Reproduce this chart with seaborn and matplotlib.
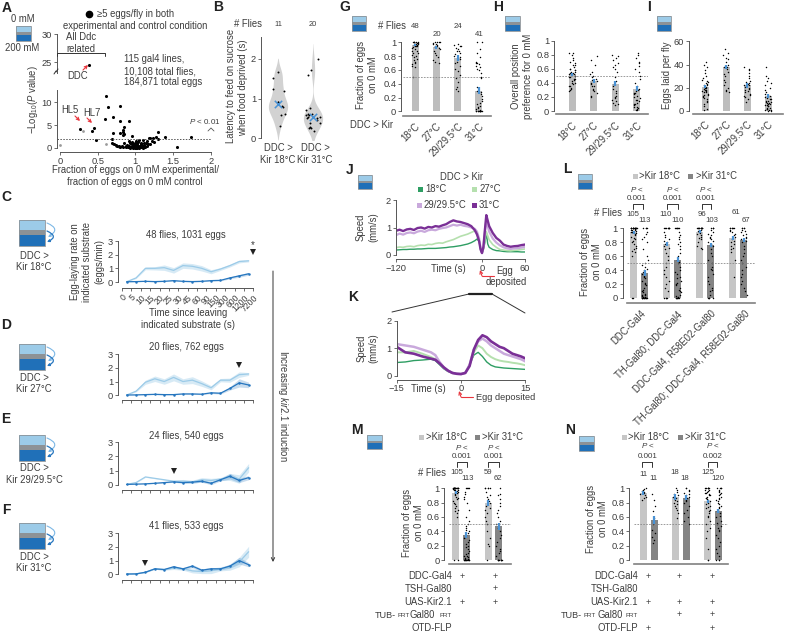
import numpy as np
import pandas as pd
import matplotlib
matplotlib.use('Agg')
import matplotlib.pyplot as plt
import seaborn as sns
from matplotlib.patches import Rectangle, FancyArrowPatch

W, H = 785, 633
TXT = '#3c3c3c'
LIGHT_BLUE = '#9ccbe8'
DARK_BLUE = '#2676bf'
ERR_BLUE = '#4a92d4'
BAR_GREY = '#bdbdbd'
BAR_LIGHT = '#c6c6c6'
BAR_DARK = '#848484'
C18, C27, C29, C31 = '#2e9e63', '#b5e0ae', '#c9a9dc', '#7a2f96'

# panel A
a_x = [.615, .637, .79, .6, .71, .8, .91, .85, .84, .83, .85, .84, .70, .79, .26, .42, .455, .48, .695, .695, .95, 1.3, 1.39, 1.74, 1.55,
       .72, .74, .76, .78, .8, .82, .84, .85, .87, .88, .89, .9, .91, .92, .93, .93, .94, .95, .95, .96, .96, .97, .97, .98, .98, .99, .99,
       1.0, 1.0, 1.0, 1.01, 1.01, 1.02, 1.02, 1.03, 1.03, 1.04, 1.05, 1.05, 1.06, 1.07, 1.08, 1.08, 1.09, 1.1, 1.1, 1.11, 1.12, 1.13, 1.14,
       1.15, 1.16, 1.17, 1.18, 1.19, 1.2, 1.22, 1.24, 1.25, 1.27, 1.3, .95, .98, 1.02, 1.06, 1.1, 1.0]
a_y = [11.3, 9.0, 9.3, 6.3, 6.7, 5.9, 6.0, 4.6, 4.0, 3.4, 3.0, 2.8, 3.2, 3.2, 4.2, 3.8, 4.3, 1.75, 1.9, 1.2, 2.6, 3.4, 2.5, 2.5, .2,
       .9, .6, .5, .4, .3, .5, .3, 1.0, .4, .2, .6, .3, 1.6, .5, .1, 1.2, .3, .8, 1.4, .2, .5, .1, .9, .3, .6, .1, 1.1,
       .2, .4, .7, .1, 1.5, .3, .9, .2, 1.3, .5, .1, 1.8, .4, .8, .2, 1.1, .5, 1.7, .1, .6, 1.2, .3, 1.0,
       1.5, .4, .9, 2.1, .8, 2.2, 1.6, 2.2, 1.4, 2.3, 2.0, .15, .25, .05, .35, .3, .45]
a_top_x = [.385]
a_top_y = [24.5]
a_grey_x = [.30, 0.0, .615, .74, .78, .70, .87]
a_grey_y = [3.8, .7, .9, .4, .3, .8, .2]

# panel B
b_18 = [1.66, 1.53, 1.25, 1.19, .91, .8, .62, .58, .31, .9, .78]
b_31 = [2.0, 1.72, 1.6, .62, .58, .62, .5, .5, .53, .38, .38, .28, .25, .26, .17, .58, .52, .7, .45, .75]
b_cats = ['18', '31']
b_means = [.85, .53]

# panels C-F
t_labels = ['0', '5', '10', '15', '20', '25', '30', '45', '60', '90', '150', '300', '600', '1200', '7200']
c_light = [.02, .3, 1.0, 1.0, 1.05, .85, 1.2, 1.15, 1.0, .75, .95, 1.2, 1.5, 1.55]
c_dark = [.02, .03, .05, .03, .05, .1, .05, .03, .05, .1, .12, .3, .45, .6]
c_light_err = [.02, .05, .1, .12, .2, .2, .2, .2, .2, .15, .1, .1, .1, .08]
c_dark_err = [.01, .01, .01, .02, .02, .03, .03, .03, .03, .03, .04, .07, .1, .1]
d_light = [.02, .3, .95, 1.2, 1.0, 1.3, 1.0, 1.1, .85, .55, 1.1, 1.1, 1.5, 1.55]
d_dark = [.02, .03, .05, .07, .05, .05, .1, .1, .08, .18, .15, .5, .9, .75]
d_light_err = [.02, .05, .15, .2, .2, .25, .2, .25, .2, .15, .12, .15, .2, .1]
d_dark_err = [.01, .01, .01, .02, .02, .02, .03, .03, .03, .05, .06, .12, .3, .2]
e_light = [.02, .15, .55, .45, .35, .25, .25, .2, .35, .3, .4, .55, .4, 1.2]
e_dark = [.02, .04, .06, .1, .15, .2, .15, .18, .25, .1, .35, .6, .3, .5]
e_light_err = [.01, .02, .03, .03, .03, .05, .12, .12, .15, .15, .1, .25, .3, .3]
e_dark_err = [.01, .01, .01, .02, .03, .03, .05, .05, .08, .1, .08, .2, .15, .15]
f_light = [.02, .03, .15, .4, .35, .45, .4, .25, .2, .25, .4, .5, .9, 1.65]
f_dark = [.02, .03, .15, .4, .35, .55, .4, .6, .3, .4, .4, .6, 1.0, .7]
f_light_err = [.01, .01, .02, .03, .05, .1, .1, .15, .15, .2, .15, .2, .35, .4]
f_dark_err = [.01, .01, .02, .03, .05, .08, .08, .12, .1, .1, .08, .15, .25, .15]

# panels G-I
temp_labels = ['18°C', '27°C', '29/29.5°C', '31°C']
g_bars = [.96, .93, .77, .30]
g_err = [.02, .02, .04, .05]
g_18 = [1, 1, 1, 1, 1, 1, .99, .99, .98, .98, .97, .97, .96, .96, .95, .95, .94, .93, .92, .9, .88, .87, .85, .84, .82, .8, .78, .76, .74, .72, .7, .68, .66, .64, .5]
g_27 = [1, 1, 1, 1, .99, .98, .97, .96, .95, .94, .93, .92, .9, .88, .85, .82, .78, .75, .72, .7]
g_29 = [.98, .96, .95, .94, .92, .9, .88, .87, .85, .83, .8, .78, .76, .72, .7, .66, .62, .58, .52, .48, .42, .35, .32, .3]
g_31 = [1, 1, .9, .85, .78, .72, .7, .68, .7, .66, .64, .62, .6, .55, .5, .48, .35, .3, .28, .25, .22, .18, .15, .12, .1, .08, .06, .05, .03, .02, .01, 0, 0, 0, 0, 0, 0, 0, 0, 0, 0]
h_bars = [.52, .43, .39, .32]
h_err = [.02, .03, .03, .03]
h_18 = [.82, .82, .8, .76, .72, .7, .68, .66, .65, .62, .6, .6, .58, .58, .56, .55, .54, .54, .52, .52, .5, .5, .48, .48, .46, .45, .44, .42, .4, .4, .38, .36, .35, .33, .32, .3, .28]
h_27 = [.78, .72, .65, .55, .52, .5, .48, .45, .44, .42, .4, .38, .36, .35, .32, .3, .28, .25, .22, .2]
h_29 = [.8, .78, .75, .72, .68, .65, .62, .6, .55, .48, .42, .38, .35, .32, .28, .25, .22, .2, .18, .16, .14, .12, .1, .09]
h_31 = [.82, .8, .75, .7, .68, .64, .6, .55, .5, .45, .4, .35, .32, .3, .28, .26, .25, .24, .22, .2, .18, .16, .15, .14, .12, .1, .1, .08, .06, .05, .04, .03, .02, .01]
i_bars = [21, 38, 22, 13]
i_err = [1.5, 2, 2, 2]
i_18 = [42, 40, 38, 35, 33, 30, 28, 27, 26, 25, 24, 23, 22, 22, 21, 20, 20, 19, 18, 18, 17, 17, 16, 16, 15, 14, 14, 13, 12, 11, 10, 9, 8, 6, 4, 2, 1]
i_27 = [53, 50, 48, 46, 45, 42, 40, 38, 38, 36, 34, 32, 30, 27, 25, 22, 20, 18, 17, 16]
i_29 = [38, 36, 35, 33, 30, 28, 26, 25, 24, 23, 22, 22, 21, 20, 19, 18, 17, 16, 15, 14, 13, 12, 10, 8]
i_31 = [38, 30, 28, 26, 24, 22, 20, 18, 16, 15, 14, 13, 12, 11, 10, 10, 9, 9, 8, 8, 7, 7, 6, 6, 5, 5, 4, 4, 3, 3, 2, 2, 1, 1, 1, 0, 0]

# panels J, K
j_t = [-120, -115, -110, -105, -100, -95, -90, -85, -80, -75, -70, -65, -60, -55, -50, -45, -40, -35, -30, -25, -20,
       -15, -10, -7, -4, -2, 0, 2, 4, 6, 8, 10, 15, 20, 25, 30, 35, 40, 45, 50, 55, 60]
j_31 = [.88, .92, .87, .93, .95, .91, .98, 1.0, .96, 1.02, 1.0, 1.05, 1.03, 1.08, 1.12, 1.2, 1.26, 1.22, 1.2, 1.16, 1.12,
        1.05, .9, .75, .5, .2, .07, .3, .9, 1.45, 1.25, 1.05, .8, .62, .52, .38, .33, .3, .32, .33, .36, .38]
j_29 = [.72, .78, .74, .8, .82, .79, .85, .88, .84, .9, .92, .9, .95, .98, 1.0, 1.05, 1.1, 1.07, 1.1, 1.06, 1.04,
        1.0, .95, .85, .6, .25, .07, .3, .8, 1.25, 1.05, .85, .6, .45, .35, .28, .24, .22, .24, .25, .27, .3]
j_27 = [.27, .29, .28, .31, .32, .3, .34, .36, .35, .39, .38, .42, .44, .43, .48, .52, .56, .62, .68, .72, .76,
        .82, .88, .8, .55, .22, .07, .25, .55, .85, .7, .55, .38, .28, .2, .18, .16, .15, .17, .18, .2, .22]
j_18 = [.18, .19, .2, .2, .21, .21, .22, .22, .23, .24, .24, .24, .25, .26, .27, .29, .3, .32, .34, .37, .4,
        .45, .52, .58, .5, .22, .07, .2, .45, .8, .4, .28, .2, .16, .15, .13, .12, .12, .12, .12, .11, .11]
k_t = [-15, -13, -11, -9, -7, -6, -5, -4, -3, -2, -1, 0, 1, 2, 3, 4, 5, 6, 7, 8, 9, 10, 11, 12, 13, 14, 15]
k_31 = [1.05, .85, .8, .7, .62, .58, .45, .3, .18, .1, .07, .06, .1, .35, .95, 1.3, 1.47, 1.4, 1.25, 1.15, 1.05, 1.0, .9, .8, .75, .7, .63]
k_29 = [1.15, 1.1, 1.05, .95, .85, .75, .5, .3, .18, .1, .07, .06, .1, .4, .95, 1.25, 1.35, 1.25, 1.1, 1.0, .9, .8, .75, .7, .65, .6, .52]
k_27 = [.85, .85, .9, .8, .68, .6, .45, .3, .18, .1, .07, .06, .1, .4, .85, 1.1, 1.0, .8, .68, .6, .55, .52, .5, .47, .45, .42, .38]
k_18 = [.48, .5, .55, .57, .6, .55, .4, .25, .15, .1, .07, .06, .1, .4, .75, .85, .7, .5, .38, .32, .3, .28, .27, .26, .25, .24, .23]

# panels L-N
l_bars = [.94, .36, .77, .55, .95, .76, .86, .83]
l_err = [.02, .04, .03, .04, .02, .03, .03, .03]
ddc_18 = [1, 1, 1, 1, 1, 1, 1, 1, 1, 1, 1, 1, 1, 1, 1, 1, 1, 1, .99, .98, .97, .97, .96, .95, .95, .94, .93, .92, .9, .88, .86, .85, .82, .8, .78, .75, .72, .7, .68, .66, .6, 0, 0]
ddc_31 = [1, 1, 1, 1, .95, .92, .88, .85, .8, .7, .6, .55, .5, .48, .45, .42, .4, .38, .35, .32, .3, .28, .25, .22, .2, .18, .15, .12, .1, .08, .06, .05, .04, .03, .02, .01, 0, 0, 0, 0, 0, 0, 0, 0, 0, 0]
th_18 = [1, 1, 1, 1, 1, 1, 1, 1, .95, .9, .88, .85, .82, .8, .78, .75, .72, .7, .65, .6, .55, .5, .45, .4, .35, .3, .25, .2, .15, .1, 0, 0, 0, 0]
th_31 = [1, 1, 1, 1, 1, 1, .95, .9, .88, .85, .8, .78, .75, .7, .65, .6, .55, .52, .5, .45, .4, .38, .35, .3, .28, .25, .22, .2, .18, .15, .12, .1, .08, .05, .03, .02, 0, 0, 0, 0, 0, 0]
r58_18 = [1, 1, 1, 1, 1, 1, 1, 1, 1, 1, 1, 1, .98, .96, .95, .94, .93, .92, .9, .88, .86, .84, .8, .75, .72, .7]
r58_31 = [1, 1, 1, 1, .98, .95, .92, .9, .88, .86, .85, .82, .8, .78, .75, .7, .65, .6, .55, .5, .45, .42, .4, .35, .3, .25, .2, .15, .12, .1, .05, 0, 0, 0, 0]
both_18 = [1, 1, 1, 1, 1, 1, .98, .96, .94, .92, .9, .88, .85, .82, .8, .78, .75, .72, .7, .66, .55, .3]
both_31 = [1, 1, 1, 1, .98, .96, .94, .92, .9, .88, .86, .84, .82, .8, .75, .7, .65, .6, .55, .5, .45, .4, .35, .3, .25, .2, .15, .1, .05]
l_groups = ['DDC-Gal4', 'TH-Gal80; DDC-Gal4', 'DDC-Gal4, R58E02-Gal80', 'TH-Gal80; DDC-Gal4, R58E02-Gal80']
m_bars = [.94, .35, .8, .47]
m_err = [.02, .04, .04, .05]
tsh_18 = [1, 1, 1, 1, 1, .95, .9, .88, .85, .82, .8, .75, .72, .7, .65, .6, .55, .5, .4, .3, .22, .2, 0]
tsh_31 = [1, .92, .9, .85, .8, .75, .7, .65, .6, .55, .5, .45, .4, .35, .3, .25, .2, .15, .12, .1, .05, 0, 0, 0, 0, 0, 0, 0, 0]
n_bars = [.93, .56, .88, .87, .82, .68]
n_err = [.03, .06, .04, .04, .02, .03]
n1_18 = [1, .99, .98, .96, .95, .94, .92, .9, .88, .86, .84]
n1_31 = [.92, .84, .75, .68, .58, .5, .42, .38, .32, .28, .24]
n2_18 = [1, .98, .95, .92, .9, .88, .86, .84, .82, .8, .78, .75, .72, .7, .66, .58]
n2_31 = [1, 1, .98, .96, .94, .92, .9, .88, .86, .84, .82, .8, .75, .7, .65, .6, .55, .5]
n3_18 = [1, 1, 1, 1, 1, 1, 1, .98, .97, .96, .95, .94, .93, .92, .91, .9, .88, .87, .86, .85, .84, .82, .8, .78, .76, .74, .72, .7, .68, .65, .62, .6, .55, .5, .45, .4, .3, .15, 0, 0]
n3_31 = [1, 1, 1, 1, .98, .96, .95, .94, .92, .9, .88, .86, .85, .84, .82, .8, .78, .76, .74, .72, .7, .68, .65, .62, .6, .55, .52, .5, .48, .45, .42, .4, .35, .3, .25, .2, .15, .1, .05, 0, 0, 0]

sns.set_theme(style='white')
plt.rcParams['font.family'] = ['Liberation Sans', 'DejaVu Sans']
plt.rcParams['mathtext.fontset'] = 'custom'
plt.rcParams['mathtext.rm'] = 'Liberation Sans'
plt.rcParams['mathtext.it'] = 'Liberation Sans:italic'
plt.rcParams['mathtext.default'] = 'regular'
plt.rcParams['axes.unicode_minus'] = True

fig = plt.figure(figsize=(W / 100, H / 100), dpi=100)

# overlay in pixel coordinates for labels and decoration
pix = fig.add_axes([0, 0, 1, 1], zorder=10)
pix.set_xlim(0, W)
pix.set_ylim(H, 0)
pix.axis('off')
pix.patch.set_alpha(0)


def t(x, y, s, size=6.85, ha='center', rot=0, **kw):
    kw.setdefault('color', TXT)
    pix.text(x, y, s, fontsize=size, ha=ha, va='center', rotation=rot, **kw)


def letter(x, y, s):
    t(x, y, s, size=10, fontweight='bold', color='#222222')


def icon(x0, y0, w, h):
    pix.add_patch(Rectangle((x0, y0), w, h * .4, fc=LIGHT_BLUE, ec='none'))
    pix.add_patch(Rectangle((x0, y0 + h * .4), w, h * .19, fc='#8d9296', ec='none'))
    pix.add_patch(Rectangle((x0, y0 + h * .59), w, h * .41, fc='#2070b8', ec='none'))
    pix.add_patch(Rectangle((x0, y0), w, h, fc='none', ec='#8a9298', lw=.6))


def loop(x, y):
    pix.add_patch(FancyArrowPatch((x, y + 3), (x + 1, y + 17), connectionstyle='arc3,rad=-1.0',
                                  arrowstyle='-|>', mutation_scale=3.5, lw=.8, color='#7db8e6', shrinkA=0, shrinkB=0))
    pix.add_patch(FancyArrowPatch((x, y + 11), (x, y + 22), connectionstyle='arc3,rad=-1.1',
                                  arrowstyle='-|>', mutation_scale=3.5, lw=.9, color='#2676bf', shrinkA=0, shrinkB=0))


def red_arrow(x0, y0, x1, y1):
    pix.add_patch(FancyArrowPatch((x0, y0), (x1, y1), arrowstyle='->', mutation_scale=5, lw=.8, color='#e8343c',
                                  shrinkA=0, shrinkB=0))


def bracket(x0, x1, y0, y1):
    pix.plot([x0, x0, x1, x1], [y1, y0, y0, y1], color='#333333', lw=.7)


def style_ax(ax):
    ax.patch.set_alpha(0)
    for s in ['top', 'right']:
        ax.spines[s].set_visible(False)
    for s in ['left', 'bottom']:
        ax.spines[s].set_color('#555555')
        ax.spines[s].set_linewidth(.7)
    ax.tick_params(length=2, width=.6, color='#555555', labelsize=6.7, labelcolor=TXT, pad=1.5,
                   left=True, bottom=True)
    ax.set_xlabel('')
    ax.set_ylabel('')


def make_ax(left, right, y_hi, y_lo, bottom, v_hi, v_lo=0, top=None):
    # y_hi/y_lo are the pixel rows of v_hi/v_lo, bottom is the row of the x axis line
    top = y_hi if top is None else top
    ax = fig.add_axes([left / W, 1 - bottom / H, (right - left) / W, (bottom - top) / H])
    per = (v_hi - v_lo) / (y_lo - y_hi)
    ax.set_ylim(v_lo - (bottom - y_lo) * per, v_hi + (y_hi - top) * per)
    style_ax(ax)
    ax.spines['left'].set_bounds(v_lo, v_hi)
    return ax


def strip_bar_panel(slots, heights, errs, strips, colors, left, right, y_hi, y_lo, bottom,
                    first, step, axis_from, yticks, jitter, bar_px=7, v_hi=1, size=1.05):
    ax = make_ax(left, right, y_hi, y_lo, bottom, v_hi)
    names = [s for s in slots if s.strip()]
    bars = pd.DataFrame({'slot': names, 'h': heights})
    sns.barplot(data=bars, x='slot', y='h', order=slots, hue='slot', palette=dict(zip(names, colors)),
                legend=False, errorbar=None, width=bar_px / step, ax=ax, linewidth=0, zorder=1)
    pts = pd.concat([pd.DataFrame({'slot': n, 'v': v}) for n, v in zip(names, strips)])
    sns.stripplot(data=pts, x='slot', y='v', order=slots, color='black', size=size, jitter=jitter,
                  linewidth=0, ax=ax, zorder=3, clip_on=False)
    pos = [slots.index(n) for n in names]
    ax.errorbar(pos, heights, yerr=errs, fmt='none', ecolor=ERR_BLUE, elinewidth=1.6, capsize=0, zorder=4)
    if v_hi == 1:
        ax.hlines(.5, (axis_from - first) / step, (right - first) / step, color='#8a8a8a', lw=.6,
                  ls=(0, (2, 1.5)), zorder=5)
    ax.set_xlim((left - first) / step, (right - first) / step)
    ax.spines['bottom'].set_bounds((axis_from - first) / step, (right - first) / step)
    ax.spines['bottom'].set_color('#808080')
    ax.spines['bottom'].set_linewidth(1.2)
    ax.set_yticks(yticks)
    ax.set_yticklabels([f'{v:g}' for v in yticks])
    ax.set_xticks([])
    ax.set_xlabel('')
    ax.set_ylabel('')
    return ax


# A ------------------------------------------------------------------
a_low = make_ax(57, 212, 90, 147, 152, 10)
a_low.set_xlim(-3 / 75.35, 152 / 75.35)
a_low.set_ylim(a_low.get_ylim()[0], 12.7)
sns.scatterplot(x=a_grey_x, y=a_grey_y, color='#9a9a9a', s=4, linewidth=0, ax=a_low, clip_on=False)
sns.scatterplot(x=a_x, y=a_y, color='black', s=5, linewidth=0, ax=a_low, clip_on=False)
a_low.axhline(2, color='#555555', lw=.7, ls=(0, (1.5, 1.5)))
a_low.set_yticks([0, 5, 10])
a_low.set_xticks([0, .5, 1, 1.5, 2])
a_low.set_xticklabels(['0', '0.5', '1', '1.5', '2'])
a_low.spines['left'].set_bounds(0, 12.7)
a_low.spines['bottom'].set_bounds(0, 2)

a_up = make_ax(57, 212, 34, 62, 73, 30, 25)
a_up.set_xlim(a_low.get_xlim())
sns.scatterplot(x=a_top_x, y=a_top_y, color='black', s=5, linewidth=0, ax=a_up)
a_up.set_yticks([25, 30])
a_up.spines['bottom'].set_visible(False)
a_up.spines['left'].set_bounds(a_up.get_ylim()[0], 30)
a_up.tick_params(axis='x', bottom=False, labelbottom=False)

letter(7, 8, 'A')
t(23, 19, '0 mM')
icon(16, 26, 15, 15)
t(22, 48, '200 mM')
pix.plot([89], [14], 'o', color='black', ms=4.5)
t(97, 14, '≥5 eggs/fly in both', ha='left')
t(135, 26, 'experimental and control condition')
t(81, 37, 'All Ddc')
t(81, 49, 'related')
bracket(57, 105, 53, 56)
t(124, 59, '115 gal4 lines,', ha='left')
t(124, 71, '10,108 total flies,', ha='left')
t(124, 82, '184,871 total eggs', ha='left')
t(78, 76, 'DDC')
red_arrow(83, 70, 88, 65)
t(70, 110, 'HL5')
red_arrow(75, 116, 80, 121)
t(92, 113, 'HL7')
red_arrow(87, 118, 92, 123)
t(205, 122, r'$\mathit{P}$ < 0.01', size=5.8)
pix.plot([208, 211, 214], [131, 128, 131], color='#555555', lw=.6)
pix.plot([56, 58], [72, 69], color='#333333', lw=.7)
pix.plot([54, 56], [74, 71], color='#333333', lw=.7)
t(33, 100, r'$-$Log$_{10}$($\mathit{P}$ value)', rot=90)
t(135, 170, 'Fraction of eggs on 0 mM experimental/')
t(135, 182, 'fraction of eggs on 0 mM control')

# B ------------------------------------------------------------------
b_ax = make_ax(261, 332, 59, 138, 140, 2, 0, top=38)
b_df = pd.concat([pd.DataFrame({'temp': '18', 'v': b_18}), pd.DataFrame({'temp': '31', 'v': b_31})])
sns.violinplot(data=b_df, x='temp', y='v', order=b_cats, inner=None, color='#d2d2d2', linewidth=0,
               density_norm='width', width=.55, bw_adjust=.7, ax=b_ax, saturation=1)
sns.stripplot(data=b_df, x='temp', y='v', order=b_cats, color='black', size=1.4, jitter=.2, ax=b_ax)
sns.scatterplot(x=[0, 1], y=b_means, marker='x', color=ERR_BLUE, s=28, linewidth=1.1, ax=b_ax, zorder=5)
b_ax.set_xlim((261 - 278) / 35, (332 - 278) / 35)
b_ax.spines['bottom'].set_visible(False)
b_ax.spines['left'].set_bounds(0, 2.55)
b_ax.set_yticks([0, 1, 2])
b_ax.set_xticks([])
b_ax.set_xlabel('')
b_ax.set_ylabel('')
letter(218, 7, 'B')
t(248, 24, '# Flies')
t(278, 25, '11', size=5.4)
t(313, 25, '20', size=5.4)
t(231, 86, 'Latency to feed on sucrose', rot=90)
t(243, 88, 'when food deprived (s)', rot=90)
t(278, 148, 'DDC >')
t(278, 160, 'Kir 18°C')
t(315, 148, 'DDC >')
t(315, 160, 'Kir 31°C')

# C-F ----------------------------------------------------------------
time_panels = [
    (c_light, c_dark, c_light_err, c_dark_err, 241, 282, 288, '48 flies, 1031 eggs', 235, 'C', 197),
    (d_light, d_dark, d_light_err, d_dark_err, 354, 395.3, 400, '20 flies, 762 eggs', 347, 'D', 325),
    (e_light, e_dark, e_light_err, e_dark_err, 442.3, 484.7, 490.3, '24 flies, 540 eggs', 436, 'E', 419),
    (f_light, f_dark, f_light_err, f_dark_err, 533.3, 574.3, 579.7, '41 flies, 533 eggs', 526, 'F', 510),
]
bin_mid = np.arange(14) + .5
for n, (lt, dk, lt_e, dk_e, y3, y0, yb, title, ty, let, ly) in enumerate(time_panels):
    ax = make_ax(118, 255, y3, y0, yb, 3)
    ax.fill_between(bin_mid, np.array(lt) - lt_e, np.array(lt) + lt_e, color=LIGHT_BLUE, alpha=.4, lw=0)
    ax.fill_between(bin_mid, np.array(dk) - dk_e, np.array(dk) + dk_e, color=DARK_BLUE, alpha=.25, lw=0)
    sns.lineplot(x=bin_mid, y=lt, color=LIGHT_BLUE, lw=.9, ax=ax)
    sns.lineplot(x=bin_mid, y=dk, color=DARK_BLUE, lw=.9, marker='o', ms=1.8, mew=0, ax=ax)
    ax.set_xlim((118 - 122) / 9.38, (255 - 122) / 9.38)
    ax.spines['bottom'].set_bounds(0, 14)
    ax.set_xticks(np.arange(15))
    ax.set_yticks([0, 1, 2, 3])
    if n == 0:
        ax.set_xticklabels(t_labels, rotation=45, ha='right', rotation_mode='anchor', fontsize=6.2)
    else:
        ax.set_xticklabels([])
    t(186, ty, title)
    letter(6, ly, let)

for y_ic, ln2, y1, y2 in [(220, 'Kir 18°C', 256, 267), (344, 'Kir 27°C', 378, 389),
                          (435, 'Kir 29/29.5°C', 468, 480), (523, 'Kir 31°C', 557, 568)]:
    icon(19, y_ic, 26, 26)
    loop(47, y_ic)
    t(34, y1, 'DDC >')
    t(34, y2, ln2)

t(75, 262, 'Egg-laying rate on', rot=90)
t(87, 262, 'indicated substrate', rot=90)
t(99, 262, '(eggs/min)', rot=90)
t(188, 313, 'Time since leaving')
t(188, 325, 'indicated substrate (s)')
for px, py in [(253, 252), (239, 365), (174, 471), (145, 563)]:
    pix.plot([px], [py], 'v', color='#222222', ms=4.2, mew=0)
t(253, 245, '*', size=7)
pix.add_patch(FancyArrowPatch((273, 271), (273, 562), arrowstyle='->', mutation_scale=6, lw=.7, color='#333333',
                              shrinkA=0, shrinkB=0))
t(283, 406, r'Increasing $\mathit{kir2.1}$ induction', rot=270)

# G H I --------------------------------------------------------------
temp_slots = ['18', '27', '29', '31']
grey4 = [BAR_GREY] * 4
g_ax = strip_bar_panel(temp_slots, g_bars, g_err, [g_18, g_27, g_29, g_31], grey4, 401, 491, 42.3, 111.3, 115.7,
                       415, 21.3, 403, [0, .2, .4, .6, .8, 1], .16)
h_ax = strip_bar_panel(temp_slots, h_bars, h_err, [h_18, h_27, h_29, h_31], grey4, 554, 648, 40.7, 111, 114.3,
                       572, 21.5, 556, [0, .2, .4, .6, .8, 1], .16)
i_ax = strip_bar_panel(temp_slots, i_bars, i_err, [i_18, i_27, i_29, i_31], grey4, 688.7, 783, 41.3, 111, 114,
                       705, 21.1, 693, [0, 20, 40, 60], .16, v_hi=60)
for ax in [g_ax, h_ax, i_ax]:
    ax.set_xticks(range(4))
    ax.set_xticklabels(temp_labels, rotation=45, ha='right', rotation_mode='anchor', fontsize=6.85)
    ax.tick_params(axis='x', length=0, pad=4)
letter(345, 7, 'G')
icon(352, 16, 14, 15)
t(392, 26, '# Flies')
for x, y, s in [(415, 26, '48'), (437, 34, '20'), (458, 26, '24'), (479, 34, '41')]:
    t(x, y, s, size=5.6)
t(361, 75, 'Fraction of eggs', rot=90)
t(373, 75, 'on 0 mM', rot=90)
t(371, 125, 'DDC > Kir')
letter(498, 7, 'H')
icon(505, 16, 15, 15)
t(516, 76, 'Overall position', rot=90)
t(528, 76, 'preference for 0 mM', rot=90)
letter(649, 7, 'I')
icon(657, 16, 14, 15)
t(667, 75, 'Eggs laid per fly', rot=90)

# J K ----------------------------------------------------------------
j_ax = make_ax(396, 525, 200, 255, 259.3, 2)
for vals, col, lw in [(j_18, C18, 1.0), (j_27, C27, 1.2), (j_29, C29, 1.6), (j_31, C31, 1.7)]:
    sns.lineplot(x=j_t, y=vals, color=col, lw=lw, ax=j_ax)
j_ax.set_xlim(-120, 60)
j_ax.set_xticks([-120, 0, 60])
j_ax.set_xticklabels(['−120', '0', '60'])
j_ax.set_yticks([0, 1, 2])
k_ax = make_ax(396.7, 525.3, 320.7, 375.7, 380, 2)
for vals, col, lw in [(k_18, C18, 1.0), (k_27, C27, 1.4), (k_29, C29, 1.8), (k_31, C31, 1.9)]:
    sns.lineplot(x=k_t, y=vals, color=col, lw=lw, ax=k_ax)
k_ax.set_xlim(-15, 15)
k_ax.set_xticks([-15, 0, 15])
k_ax.set_xticklabels(['−15', '0', '15'])
k_ax.tick_params(axis='x', pad=1)
k_ax.set_yticks([0, 1, 2])

letter(350, 170, 'J')
icon(358, 175, 14, 14)
t(461, 177, 'DDC > Kir')
for px, py, col, lab in [(420, 189, C18, '18°C'), (474, 189, C27, '27°C'), (419, 205, C29, '29/29.5°C'), (474, 205, C31, '31°C')]:
    pix.add_patch(Rectangle((px - 2.5, py - 2.5), 5, 5, fc=col, ec='none'))
    t(px + 5, py, lab, ha='left')
t(361, 227, 'Speed', rot=90)
t(373, 227, '(mm/s)', rot=90)
t(448, 269, 'Time (s)')
t(505, 271, 'Egg')
t(506, 282, 'deposited')
pix.plot([494, 482], [276, 276], color='#e8343c', lw=.8)
red_arrow(482, 276, 480, 270)
letter(353, 297, 'K')
pix.plot([392, 469], [312, 294], color='#333333', lw=.7)
pix.plot([469, 492], [294, 294], color='#222222', lw=1.6)
pix.plot([492, 525], [294, 313], color='#333333', lw=.7)
t(362, 348, 'Speed', rot=90)
t(373, 348, '(mm/s)', rot=90)
t(428, 389, 'Time (s)')
t(476, 397, 'Egg deposited', ha='left', size=6.7)
pix.plot([473, 461], [397, 397], color='#e8343c', lw=.8)
red_arrow(461, 397, 459, 391)


def key(x1, t1, x2, t2, y):
    for px, tx, col, lab in [(x1, t1, BAR_LIGHT, '>Kir 18°C'), (x2, t2, BAR_DARK, '>Kir 31°C')]:
        pix.add_patch(Rectangle((px - 2.5, y - 2.5), 5, 5, fc=col, ec='none'))
        t(tx, y, lab, ha='left')


def signif(cx, y_p, y_v, x0, x1, y_b, val='0.001'):
    t(cx, y_p, r'$\mathit{P}$ <', size=5.8)
    t(cx, y_v, val, size=5.8)
    bracket(x0, x1, y_b, y_b + 5)


# L ------------------------------------------------------------------
l_slots = ['a18', 'a31', ' ', 'b18', 'b31', '  ', 'c18', 'c31', '   ', 'd18', 'd31']
strip_bar_panel(l_slots, l_bars, l_err, [ddc_18, ddc_31, th_18, th_31, r58_18, r58_31, both_18, both_31],
                [BAR_LIGHT, BAR_DARK] * 4, 622.7, 755, 228.3, 298, 303, 633.7, 11, 627, [0, .2, .4, .6, .8, 1], .27)
letter(567, 169, 'L')
icon(578, 174, 14, 15)
key(635, 639, 690, 696, 176)
signif(637, 189, 199, 633, 643, 204)
signif(673, 189, 199, 667, 678, 204)
signif(706, 189, 199, 702, 711, 204)
t(608, 213, '# Flies')
for x, y, s in [(633, 214, '105'), (645, 220, '113'), (666, 214, '110'), (678, 220, '110'),
                (702, 214, '96'), (712, 220, '103'), (736, 213, '61'), (746, 220, '67')]:
    t(x, y, s, size=5.6)
t(585, 262, 'Fraction of eggs', rot=90)
t(597, 262, 'on 0 mM', rot=90)
for (x, y), lab in zip([(641, 308), (677, 309), (710, 308), (744, 308)], l_groups):
    pix.text(x, y, lab, fontsize=6.85, color=TXT, rotation=45, ha='right', va='top', rotation_mode='anchor')


def genotype(right, tub_x, rows, plus_x, plus):
    for y, lab in zip([576, 589, 602, 628], rows):
        t(right, y, lab, ha='right')
    t(tub_x[0], 615, 'TUB-', ha='left', size=6.5)
    t(tub_x[1], 615.5, 'FRT', size=4.6, ha='left')
    t(tub_x[2], 615, 'Gal80', ha='left')
    t(tub_x[3], 615.5, 'FRT', size=4.6, ha='left')
    for y, marks in zip([576, 589, 602, 615, 628], plus):
        for x, on in zip(plus_x, marks):
            if on:
                t(x, y, '+', size=6.4)


rows_gen = ['DDC-Gal4', 'TSH-Gal80', 'UAS-Kir2.1', 'OTD-FLP']

# M ------------------------------------------------------------------
m_slots = ['a18', 'a31', ' ', 'b18', 'b31']
strip_bar_panel(m_slots, m_bars, m_err, [ddc_18, ddc_31, tsh_18, tsh_31], [BAR_LIGHT, BAR_DARK] * 2,
                444.3, 511, 488.3, 560, 564.3, 455.7, 10.8, 449, [0, .2, .4, .6, .8, 1], .27)
letter(357, 430, 'M')
icon(367, 435, 15, 14)
key(421, 426, 477, 482, 437)
signif(462, 448, 457, 457, 467, 462)
signif(494, 448, 457, 488, 499, 462)
t(432, 473, '# Flies')
for x, y, s in [(457, 473, '105'), (468, 479, '113'), (488, 473, '59'), (498, 479, '62')]:
    t(x, y, s, size=5.6)
t(407, 523, 'Fraction of eggs', rot=90)
t(419, 523, 'on 0 mM', rot=90)
genotype(452, (375, 398, 410, 439), rows_gen, [462, 495],
         [[1, 1], [0, 1], [1, 1], [0, 0], [0, 0]])

# N ------------------------------------------------------------------
n_slots = ['a18', 'a31', ' ', 'b18', 'b31', '  ', 'c18', 'c31']
strip_bar_panel(n_slots, n_bars, n_err, [n1_18, n1_31, n2_18, n2_31, n3_18, n3_31], [BAR_LIGHT, BAR_DARK] * 3,
                629, 727.7, 488.3, 560, 564.3, 643.3, 10.72, 634, [0, .2, .4, .6, .8, 1], .27)
letter(570, 430, 'N')
icon(579, 436, 15, 15)
key(624, 628, 680, 685, 437)
signif(648, 446, 456, 642, 652, 462)
signif(713, 446, 456, 708, 717, 462, val='0.002')
for x, y, s in [(643, 474, '11'), (653, 479, '11'), (675, 473, '18'), (685, 479, '18'), (708, 473, '125'), (718, 479, '120')]:
    t(x, y, s, size=5.6)
t(591, 519, 'Fraction of eggs', rot=90)
t(603, 519, 'on 0 mM', rot=90)
genotype(638, (561, 583, 598, 626), rows_gen, [648, 679, 712],
         [[1, 1, 1], [0, 0, 0], [1, 1, 1], [0, 1, 1], [1, 0, 1]])

fig.savefig('out.png', dpi=100)
